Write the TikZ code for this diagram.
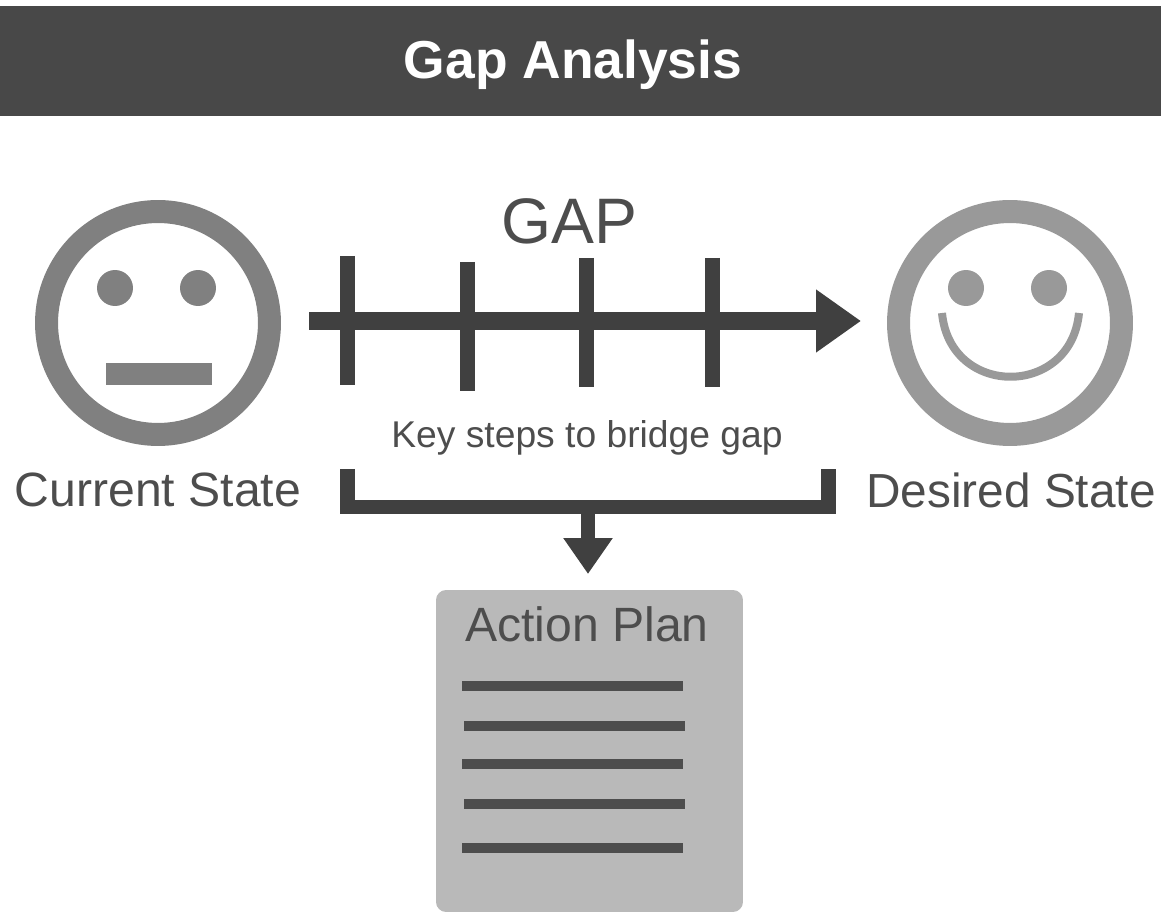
\documentclass[tikz,border=0pt]{standalone}
\usepackage{fontspec}
\setmainfont{Liberation Sans}
\usetikzlibrary{arrows.meta}
\definecolor{darkgrey}{HTML}{484848}
\definecolor{bargrey}{HTML}{404040}
\definecolor{textgrey}{HTML}{4d4d4d}
\definecolor{boxgrey}{HTML}{b9b9b9}
\tikzset{
	face/.style={draw,circle,line width=0.46cm,minimum size=4.46cm,inner sep=0pt},
	eye/.style={circle,minimum size=0.72cm,inner sep=0pt},
	label/.style={text=textgrey,inner sep=0pt},
	bar/.style={bargrey,line width=0.3cm},
	listline/.style={textgrey,line width=0.2cm},
}
\begin{document}
\begin{tikzpicture}[x=0.02cm,y=-0.02cm]
		\useasboundingbox (0, 0) rectangle (1161, 912);
		\node[fill=darkgrey,minimum width=23.22cm,minimum height=2.2cm,inner sep=0pt] at (580.5, 61) (banner) {};
		\node[text=white,inner sep=0pt,font=\fontsize{30.4}{36}\selectfont\bfseries] at (573, 65) (title) {Gap Analysis};
		
		% faces
		\node[face,draw=gray] at (158, 323) (current) {};
		\node[eye,fill=gray] at (115, 288) (eye1) {};
		\node[eye,fill=gray] at (198, 288) (eye2) {};
		\node[fill=gray,minimum width=2.12cm,minimum height=0.44cm,inner sep=0pt] at (159, 374) (mouth) {};
		
		\node[face,draw=black!40] at (1010, 323) (desired) {};
		\node[eye,fill=black!40] at (966, 288) (eye3) {};
		\node[eye,fill=black!40] at (1049, 288) (eye4) {};
		\coordinate (s1) at (942, 313);
		\coordinate (s2) at (1079, 313);
		\draw[black!40,line width=0.16cm] (s1) .. controls (950, 398) and (1071, 398) .. (s2);
		
		% labels
		\node[label,font=\fontsize{27.4}{32}\selectfont] at (158, 490) (currentlabel) {Current State};
		\node[label,font=\fontsize{27.2}{32}\selectfont] at (1011, 490) (desiredlabel) {Desired State};
		\node[label,font=\fontsize{36.6}{43}\selectfont] at (569, 221) (gap) {GAP};
		\node[label,font=\fontsize{21.2}{26}\selectfont] at (587, 438) (steps) {Key steps to bridge gap};
		
		% gap arrow and ticks
		\coordinate (a) at (309, 321);
		\coordinate (b) at (861, 321);
		\draw[bar,line width=0.36cm,-{Triangle[length=0.9cm,width=1.2cm]}] (a) -- (b);
		\coordinate (t1) at (347, 256);
		\coordinate (t2) at (347, 385);
		\coordinate (t3) at (467, 262);
		\coordinate (t4) at (467, 391);
		\coordinate (t5) at (586, 258);
		\coordinate (t6) at (586, 387);
		\coordinate (t7) at (712, 258);
		\coordinate (t8) at (712, 387);
		\draw[bar] (t1) -- (t2);
		\draw[bar] (t3) -- (t4);
		\draw[bar] (t5) -- (t6);
		\draw[bar] (t7) -- (t8);
		
		% bracket
		\coordinate (c) at (347, 469);
		\coordinate (d) at (347, 507);
		\coordinate (e) at (828, 507);
		\coordinate (f) at (828, 469);
		\draw[bar] (c) -- (d) -- (e) -- (f);
		
		% action plan
		\node[fill=boxgrey,rounded corners=0.2cm,minimum width=6.14cm,minimum height=6.44cm,inner sep=0pt] at (589.5, 751) (plan) {};
		\node[label,font=\fontsize{27.4}{32}\selectfont] at (587, 624) (plantitle) {Action Plan};
		\coordinate (g) at (588, 514);
		\coordinate (h) at (588, 574);
		\draw[bar,line width=0.28cm,-{Triangle[length=0.72cm,width=0.94cm]}] (g) -- (h);
		
		\coordinate (l1) at (462, 686);
		\coordinate (l2) at (683, 686);
		\coordinate (l3) at (464, 726);
		\coordinate (l4) at (685, 726);
		\coordinate (l5) at (462, 764);
		\coordinate (l6) at (683, 764);
		\coordinate (l7) at (464, 804);
		\coordinate (l8) at (685, 804);
		\coordinate (l9) at (462, 848);
		\coordinate (l10) at (683, 848);
		\draw[listline] (l1) -- (l2);
		\draw[listline] (l3) -- (l4);
		\draw[listline] (l5) -- (l6);
		\draw[listline] (l7) -- (l8);
		\draw[listline] (l9) -- (l10);
		\end{tikzpicture}
\end{document}
